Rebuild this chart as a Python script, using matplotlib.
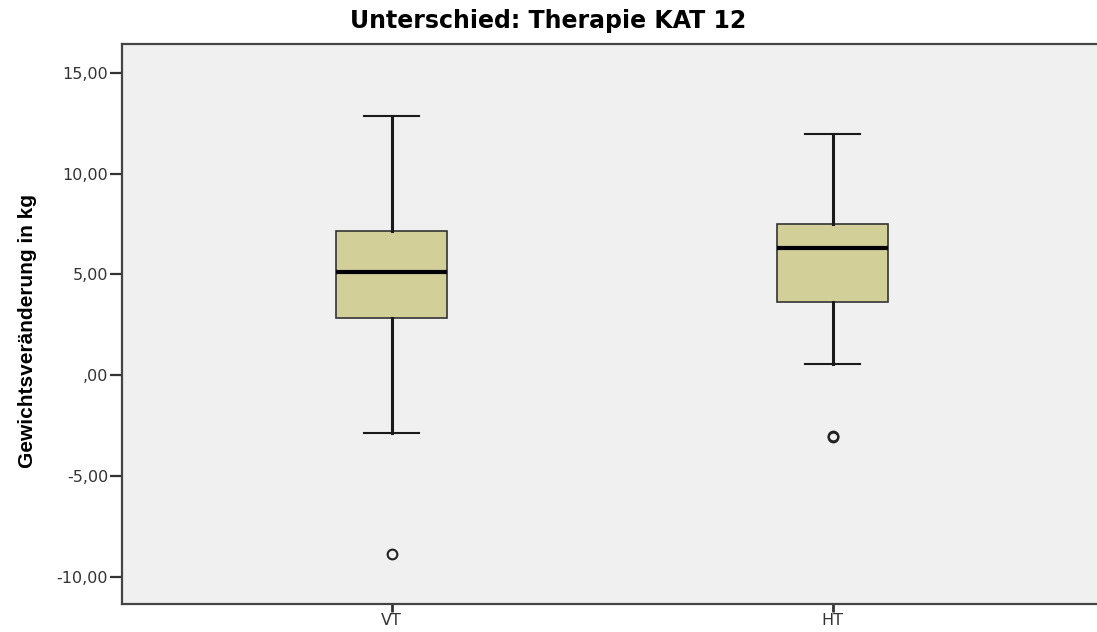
import matplotlib
matplotlib.use("Agg")
from matplotlib import pyplot as plt

# data (kg)
groups = ["VT", "HT"]
whisker_low = [-2.88, 0.53]
q1 = [2.83, 3.62]
median = [5.13, 6.29]
q3 = [7.14, 7.52]
whisker_high = [12.85, 11.94]
outliers = [[-8.88], [-3.0, -3.06]]

yticks = [-10, -5, 0, 5, 10, 15]
yticklabels = ["-10,00", "-5,00", ",00", "5,00", "10,00", "15,00"]

stats = []
for i in range(len(groups)):
    stats.append({"label": groups[i], "whislo": whisker_low[i], "q1": q1[i],
                  "med": median[i], "q3": q3[i], "whishi": whisker_high[i],
                  "fliers": outliers[i]})

fig = plt.figure(figsize=(10.97, 6.32), dpi=100)
ax = fig.add_axes([122/1097, 1-603.7/632, 1-122/1097, (603.7-44)/632])
ax.set_facecolor("#f0f0f0")

ax.bxp(stats, positions=[1, 2], widths=0.252, capwidths=0.125,
       patch_artist=True, showfliers=True,
       boxprops=dict(facecolor="#d3cf99", edgecolor="#333333", linewidth=1.2),
       whiskerprops=dict(color="#1a1a1a", linewidth=2.2),
       capprops=dict(color="#1a1a1a", linewidth=1.5),
       medianprops=dict(color="black", linewidth=3),
       flierprops=dict(marker="o", markerfacecolor="none", markeredgecolor="#222222",
                       markersize=7, markeredgewidth=1.5))

ax.set_xlim(0.388, 2.6)
ax.set_ylim(-11.34, 16.43)
ax.set_yticks(yticks)
ax.set_yticklabels(yticklabels)
ax.set_xticks([1, 2])
ax.set_xticklabels(groups)

for s in ["left", "top", "bottom"]:
    ax.spines[s].set_color("#444444")
    ax.spines[s].set_linewidth(1.6)
ax.spines["right"].set_visible(False)

ax.tick_params(axis="y", length=9, width=1.6, color="#333333", pad=1,
               labelsize=11.5, labelcolor="#333333")
ax.tick_params(axis="x", length=6, width=2, color="#333333", pad=1,
               labelsize=11.5, labelcolor="#333333")
for lab in ax.get_yticklabels() + ax.get_xticklabels():
    lab.set_family("DejaVu Sans")

fig.text(548/1097, 1-21/632, "Unterschied: Therapie KAT 12", ha="center", va="center",
         fontsize=17, fontweight="bold", family="DejaVu Sans")
fig.text(28/1097, 1-331.5/632, "Gewichtsveränderung in kg", rotation=90,
         ha="center", va="center", fontsize=15, fontweight="bold",
         family=["Liberation Sans Narrow", "Liberation Sans"])

fig.savefig("out.png", dpi=100, facecolor="white")
